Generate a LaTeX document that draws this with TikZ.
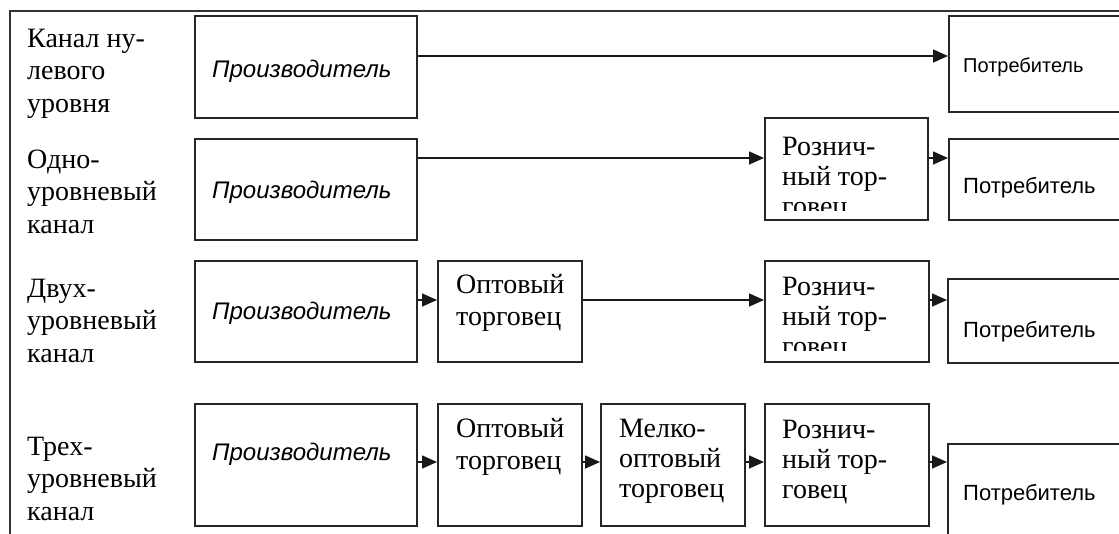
\documentclass[tikz,border=0pt]{standalone}
\usepackage{fontspec}
\setmainfont{Liberation Serif}
\newfontfamily\arialf{Liberation Sans}
\usetikzlibrary{arrows.meta}
\begin{document}
\begin{tikzpicture}[x=1pt,y=-1pt,
  box/.style={draw=black!85, line width=1.8pt, anchor=north west, inner sep=0pt},
  lbl/.style={anchor=north west, inner sep=0pt, align=left, font=\fontsize{28}{32.5}\selectfont},
  btxt/.style={anchor=north west, inner sep=0pt, align=left, font=\fontsize{28}{30}\selectfont},
  otxt/.style={anchor=north west, inner sep=0pt, align=left, font=\fontsize{28}{32}\selectfont},
  prod/.style={anchor=base west, inner sep=0pt, font=\arialf\itshape\fontsize{24}{28}\selectfont},
  cons/.style={anchor=base west, inner sep=0pt, font=\arialf\fontsize{22}{26}\selectfont},
  consa/.style={anchor=base west, inner sep=0pt, font=\arialf\fontsize{20}{24}\selectfont},
  arr/.style={draw=black!90, line width=1.6pt, -{Triangle[length=15pt,width=13pt]}},
  frameline/.style={draw=black!80, line width=2pt}
]
\clip (0,0) rectangle (1119,533);
\fill[white] (0,0) rectangle (1119,533);
% frame
\coordinate (ftr) at (1125,11);
\coordinate (ftl) at (10,11);
\coordinate (fbl) at (10,540);
\draw[frameline] (ftr) -- (ftl) -- (fbl);

% left labels
\node[lbl] (l1) at (27,24.25) {\strut Канал ну-\\\strut левого\\\strut уровня};
\node[lbl] (l2) at (27,145.25) {\strut Одно-\\\strut уровневый\\\strut канал};
\node[lbl] (l3) at (27,274.25) {\strut Двух-\\\strut уровневый\\\strut канал};
\node[lbl] (l4) at (27,432.25) {\strut Трех-\\\strut уровневый\\\strut канал};

% row 1
\node[box, minimum width=222pt, minimum height=102pt] (p1) at (194,15) {};
\node[box, minimum width=200pt, minimum height=96pt] (c1) at (948,15) {};
\node[prod] (p1t) at (212,77) {Производитель};
\node[consa] (c1t) at (963,72) {Потребитель};
\draw[arr] (p1.east |- 0,56) -- (c1.west |- 0,56);

% row 2
\node[box, minimum width=222pt, minimum height=101pt] (p2) at (194,138) {};
\node[box, minimum width=163pt, minimum height=102pt] (r2) at (764,117) {};
\node[box, minimum width=200pt, minimum height=81pt] (c2) at (948,138) {};
\node[prod] (p2t) at (212,198) {Производитель};
\node[cons] (c2t) at (963,193) {Потребитель};
\begin{scope}
\clip (764,117) rectangle (927,210);
\node[btxt] (r2t) at (782,134) {\strut Рознич-\\\strut ный тор-\\\strut говец};
\end{scope}
\draw[arr] (p2.east |- 0,158) -- (r2.west |- 0,158);
\draw[arr] (r2.east |- 0,158) -- (c2.west |- 0,158);

% row 3
\node[box, minimum width=222pt, minimum height=101pt] (p3) at (194,260) {};
\node[box, minimum width=144pt, minimum height=101pt] (o3) at (437,260) {};
\node[box, minimum width=164pt, minimum height=101pt] (r3) at (764,260) {};
\node[box, minimum width=200pt, minimum height=84pt] (c3) at (947,278) {};
\node[prod] (p3t) at (212,319) {Производитель};
\node[otxt] (o3t) at (456,270.6) {\strut Оптовый\\\strut торговец};
\begin{scope}
\clip (764,260) rectangle (928,350);
\node[btxt] (r3t) at (782,274) {\strut Рознич-\\\strut ный тор-\\\strut говец};
\end{scope}
\node[cons] (c3t) at (963,337) {Потребитель};
\draw[arr] (p3.east |- 0,300) -- (o3.west |- 0,300);
\draw[arr] (o3.east |- 0,300) -- (r3.west |- 0,300);
\draw[arr] (r3.east |- 0,300) -- (c3.west |- 0,300);

% row 4
\node[box, minimum width=222pt, minimum height=122pt] (p4) at (194,403) {};
\node[box, minimum width=144pt, minimum height=122pt] (o4) at (437,403) {};
\node[box, minimum width=144pt, minimum height=122pt] (m4) at (600,403) {};
\node[box, minimum width=164pt, minimum height=122pt] (r4) at (764,403) {};
\node[box, minimum width=200pt, minimum height=120pt] (c4) at (947,443) {};
\node[prod] (p4t) at (212,460) {Производитель};
\node[otxt] (o4t) at (456,414.6) {\strut Оптовый\\\strut торговец};
\node[btxt] (m4t) at (619,416) {\strut Мелко-\\\strut оптовый\\\strut торговец};
\node[btxt] (r4t) at (782,417) {\strut Рознич-\\\strut ный тор-\\\strut говец};
\node[cons] (c4t) at (963,500) {Потребитель};
\draw[arr] (p4.east |- 0,462) -- (o4.west |- 0,462);
\draw[arr] (o4.east |- 0,462) -- (m4.west |- 0,462);
\draw[arr] (m4.east |- 0,462) -- (r4.west |- 0,462);
\draw[arr] (r4.east |- 0,462) -- (c4.west |- 0,462);
\end{tikzpicture}
\end{document}
